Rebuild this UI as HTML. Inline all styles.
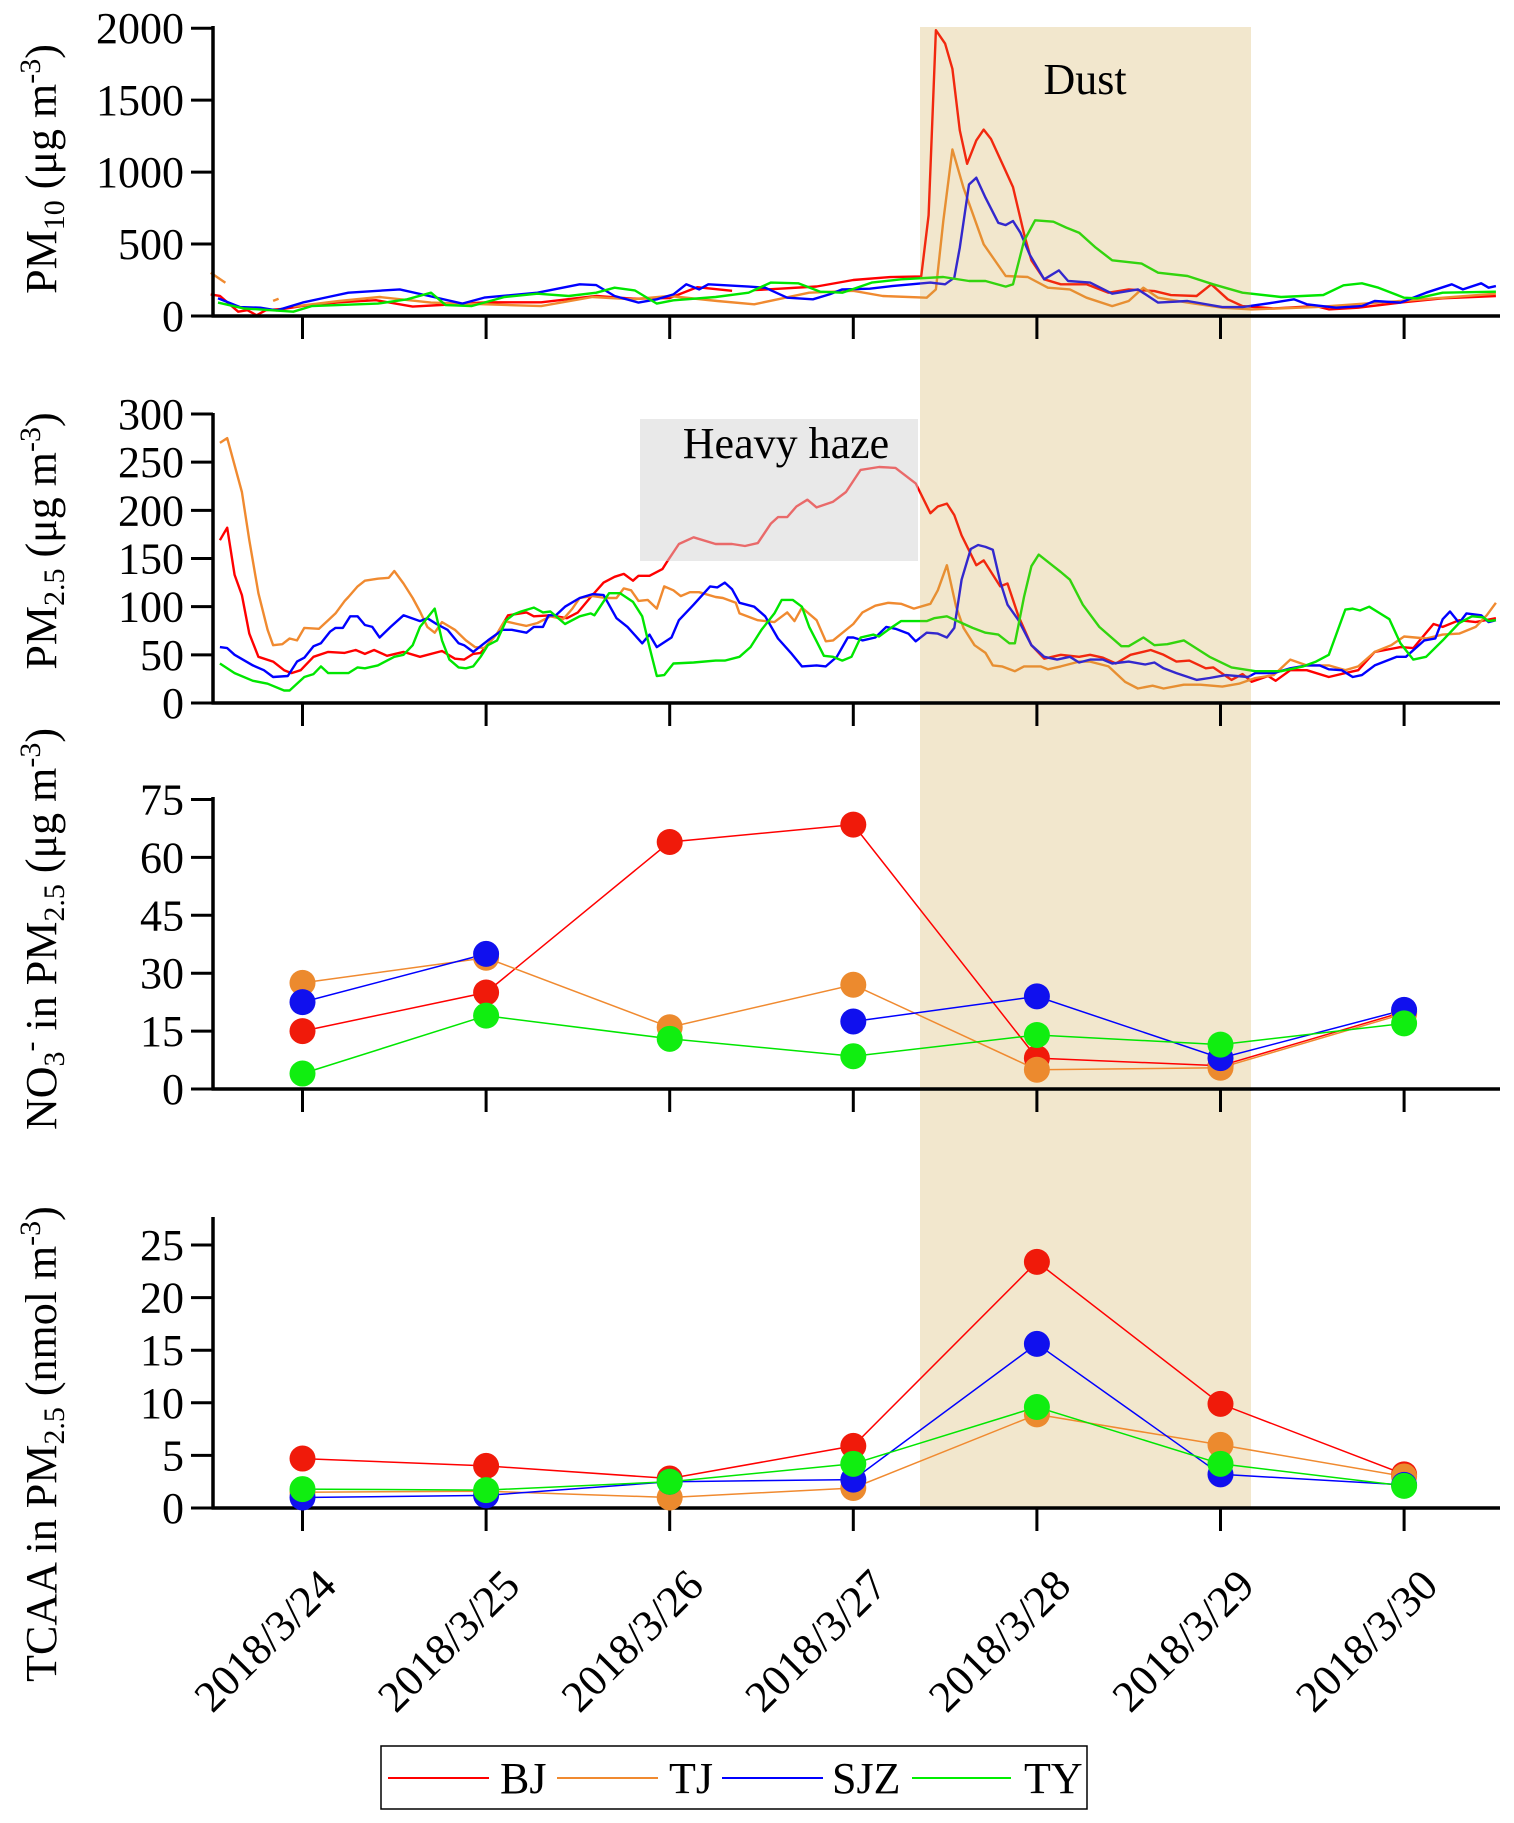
<!DOCTYPE html>
<html><head><meta charset="utf-8">
<style>
html,body{margin:0;padding:0;background:#fff;}
svg{display:block;font-family:"Liberation Serif","Times New Roman",serif;}
</style></head>
<body>
<svg id="chart" width="1514" height="1823" viewBox="0 0 1514 1823" xmlns="http://www.w3.org/2000/svg">
<g id="layer-lines"></g>
<rect x="640" y="419" width="278" height="142" fill="#d4d4d4" fill-opacity="0.5"/>
<text x="786" y="458" font-size="44" text-anchor="middle">Heavy haze</text>
<rect x="920" y="27" width="331" height="1482" fill="rgb(203,159,55)" fill-opacity="0.25"/>
<text x="1085" y="94" font-size="44" text-anchor="middle">Dust</text>
<g id="layer-axes"></g>
<g id="layer-dots"></g>

<text transform="translate(56,169) rotate(-90)" font-size="44" text-anchor="middle">PM<tspan font-size="30" dy="8">10</tspan><tspan dy="-8"> (μg m</tspan><tspan font-size="30" dy="-16">-3</tspan><tspan dy="16">)</tspan></text>
<text transform="translate(56,541) rotate(-90)" font-size="44" text-anchor="middle">PM<tspan font-size="30" dy="8">2.5</tspan><tspan dy="-8"> (μg m</tspan><tspan font-size="30" dy="-16">-3</tspan><tspan dy="16">)</tspan></text>
<text transform="translate(56,929) rotate(-90)" font-size="44" text-anchor="middle">NO<tspan font-size="30" dy="8">3</tspan><tspan font-size="30" dy="-24">-</tspan><tspan dy="16"> in PM</tspan><tspan font-size="30" dy="8">2.5</tspan><tspan dy="-8"> (μg m</tspan><tspan font-size="30" dy="-16">-3</tspan><tspan dy="16">)</tspan></text>
<text transform="translate(56,1444) rotate(-90)" font-size="44" text-anchor="middle">TCAA in PM<tspan font-size="30" dy="8">2.5</tspan><tspan dy="-8"> (nmol m</tspan><tspan font-size="30" dy="-16">-3</tspan><tspan dy="16">)</tspan></text>

<g>
<rect x="381" y="1746" width="706" height="63" fill="#fff" stroke="#000" stroke-width="1.5"/>
<line x1="388" y1="1778" x2="489" y2="1778" stroke="#ff0000" stroke-width="2"/>
<text x="500" y="1793" font-size="44">BJ</text>
<line x1="557" y1="1778" x2="658" y2="1778" stroke="#f08a30" stroke-width="2"/>
<text x="669" y="1793" font-size="44">TJ</text>
<line x1="722" y1="1778" x2="823" y2="1778" stroke="#0000ff" stroke-width="2"/>
<text x="832" y="1793" font-size="44">SJZ</text>
<line x1="912" y1="1778" x2="1011" y2="1778" stroke="#00ee00" stroke-width="2"/>
<text x="1024" y="1793" font-size="44">TY</text>
</g>
</svg>
<script>
const dates = ["2018/3/24","2018/3/25","2018/3/26","2018/3/27","2018/3/28","2018/3/29","2018/3/30"];
const seriesNames = ["BJ","TJ","SJZ","TY"];
const pm10Ticks = [0,500,1000,1500,2000];
const pm25Ticks = [0,50,100,150,200,250,300];
const no3Ticks = [0,15,30,45,60,75];
const tcaaTicks = [0,5,10,15,20,25];

const pm10BJ = [[-0.5,150],[-0.45,140],[-0.35,30],[-0.3,40],[-0.25,5],[-0.2,40],[-0.1,50],[0,70],[0.2,95],[0.4,110],[0.6,65],[0.8,80],[1.0,95],[1.3,95],[1.6,140],[1.8,120],[2.0,125],[2.15,200],[2.34,175],null,[2.46,180],[2.6,190],[2.8,205],[3.0,250],[3.2,270],[3.37,275],[3.41,700],[3.45,1986],[3.5,1893],[3.54,1718],[3.58,1290],[3.62,1058],[3.67,1220],[3.71,1295],[3.75,1230],[3.82,1035],[3.87,896],[3.93,572],[3.97,387],[4.04,255],[4.13,220],[4.27,220],[4.39,162],[4.5,185],[4.64,173],[4.73,145],[4.87,139],[4.95,220],[5.04,116],[5.12,69],[5.29,53],[5.52,69],[5.59,46],[5.75,58],[5.98,93],[6.21,123],[6.5,139]];
const pm10TJ = [[-0.5,300],[-0.42,231],null,[-0.16,105],[-0.13,120],null,[-0.05,65],[0.2,104],[0.42,132],[0.7,93],[1.0,81],[1.3,69],[1.58,132],[1.8,116],[2.0,139],[2.26,104],[2.46,81],[2.76,162],[3.0,175],[3.16,139],[3.4,127],[3.45,185],[3.49,660],[3.54,1157],[3.6,891],[3.71,498],[3.83,278],[3.95,271],[4.06,197],[4.18,185],[4.27,127],[4.41,69],[4.5,104],[4.58,197],[4.66,127],[4.82,93],[5.01,58],[5.17,46],[5.52,62],[5.98,104],[6.5,155]];
const pm10SJZ = [[-0.46,123],[-0.34,62],[-0.23,58],[-0.14,39],[0,93],[0.14,132],[0.25,162],[0.53,185],[0.69,139],[0.87,86],[0.99,128],[1.28,162],[1.51,220],[1.6,215],[1.7,139],[1.83,93],[1.93,116],[2.02,150],[2.09,220],[2.16,185],[2.21,220],[2.43,204],[2.52,197],[2.64,127],[2.78,116],[2.87,150],[2.94,185],[3.09,190],[3.21,208],[3.42,232],[3.5,220],[3.55,266],[3.58,475],[3.63,914],[3.67,961],[3.72,822],[3.79,648],[3.83,632],[3.87,660],[3.91,579],[3.96,428],[4.04,255],[4.12,317],[4.17,243],[4.29,232],[4.41,155],[4.55,185],[4.66,93],[4.82,104],[5.01,62],[5.12,62],[5.29,93],[5.4,116],[5.47,81],[5.63,58],[5.77,69],[5.84,104],[5.98,93],[6.12,162],[6.26,220],[6.32,185],[6.42,227],[6.46,197],[6.5,208]];
const pm10TY = [[-0.46,93],[-0.32,53],[-0.05,30],[0.05,69],[0.41,86],[0.57,116],[0.7,162],[0.78,76],[0.92,69],[1.1,132],[1.28,155],[1.45,139],[1.6,162],[1.7,197],[1.81,178],[1.93,86],[2.02,109],[2.25,132],[2.43,162],[2.55,232],[2.7,227],[2.82,169],[2.94,162],[3.1,232],[3.26,255],[3.49,271],[3.63,243],[3.72,243],[3.83,204],[3.87,220],[3.93,521],[3.99,665],[4.09,655],[4.16,614],[4.23,579],[4.32,475],[4.41,387],[4.57,364],[4.66,301],[4.82,278],[4.96,220],[5.12,162],[5.33,132],[5.56,146],[5.67,213],[5.77,227],[5.86,197],[6.0,127],[6.07,123],[6.21,162],[6.5,169]];

const pm25BJ = [[-0.45,169],[-0.41,182],[-0.37,133],[-0.33,112],[-0.29,72],[-0.24,48],[-0.16,43],[-0.1,34],[-0.06,31],[-0.01,34],[0.06,48],[0.14,53],[0.23,52],[0.29,55],[0.34,51],[0.39,55],[0.46,49],[0.55,53],[0.64,48],[0.76,54],[0.83,46],[0.88,45],[0.93,51],[0.97,52],[1.06,72],[1.12,91],[1.22,94],[1.26,90],[1.35,91],[1.44,88],[1.5,94],[1.57,110],[1.64,125],[1.7,131],[1.75,134],[1.8,127],[1.83,132],[1.89,132],[1.96,139],[1.99,148],[2.05,165],[2.13,172],[2.25,165],[2.34,165],[2.41,163],[2.48,166],[2.55,186],[2.59,193],[2.64,193],[2.69,204],[2.75,211],[2.8,203],[2.89,209],[2.96,219],[3.04,242],[3.14,245],[3.23,244],[3.34,228],[3.42,197],[3.46,204],[3.51,207],[3.55,195],[3.59,174],[3.67,143],[3.71,148],[3.8,121],[3.84,124],[3.9,90],[3.97,60],[4.04,46],[4.13,50],[4.23,48],[4.29,50],[4.36,47],[4.43,41],[4.51,50],[4.62,55],[4.69,50],[4.76,43],[4.83,44],[4.92,36],[4.96,37],[5.06,24],[5.12,30],[5.17,22],[5.26,28],[5.3,23],[5.38,34],[5.47,34],[5.59,27],[5.68,31],[5.75,34],[5.84,53],[5.98,58],[6.05,57],[6.16,82],[6.21,79],[6.3,86],[6.39,84],[6.5,88]];
const pm25TJ = [[-0.45,270],[-0.41,275],[-0.33,219],[-0.29,169],[-0.24,114],[-0.19,76],[-0.16,60],[-0.11,61],[-0.07,67],[-0.03,65],[0.01,78],[0.09,77],[0.14,86],[0.18,93],[0.23,106],[0.25,110],[0.3,121],[0.34,127],[0.41,129],[0.47,130],[0.5,137],[0.55,124],[0.6,109],[0.64,95],[0.68,79],[0.72,73],[0.76,84],[0.83,76],[0.89,65],[0.94,58],[0.99,57],[1.06,72],[1.1,85],[1.17,82],[1.22,80],[1.28,83],[1.35,90],[1.42,87],[1.47,98],[1.51,109],[1.58,111],[1.65,109],[1.71,109],[1.75,119],[1.79,117],[1.83,106],[1.88,107],[1.93,98],[1.97,121],[2.02,117],[2.06,111],[2.11,115],[2.16,115],[2.25,110],[2.29,109],[2.36,104],[2.38,93],[2.48,86],[2.57,84],[2.64,94],[2.68,85],[2.72,99],[2.8,86],[2.85,64],[2.89,65],[3.0,82],[3.05,94],[3.12,101],[3.19,104],[3.26,103],[3.33,98],[3.42,103],[3.46,117],[3.51,143],[3.56,100],[3.6,78],[3.66,60],[3.72,52],[3.76,39],[3.81,38],[3.88,33],[3.93,38],[4.02,38],[4.06,35],[4.13,38],[4.23,43],[4.29,43],[4.39,38],[4.48,22],[4.55,15],[4.63,18],[4.69,15],[4.8,19],[4.89,19],[5.01,17],[5.1,20],[5.19,26],[5.29,29],[5.38,45],[5.47,39],[5.59,39],[5.68,34],[5.75,38],[5.84,53],[5.93,60],[6.0,69],[6.12,67],[6.21,71],[6.3,72],[6.39,79],[6.45,91],[6.5,104]];
const pm25SJZ = [[-0.45,58],[-0.41,57],[-0.37,50],[-0.27,39],[-0.21,34],[-0.16,27],[-0.08,28],[-0.03,43],[0.01,47],[0.06,59],[0.1,62],[0.15,74],[0.18,78],[0.22,78],[0.26,90],[0.3,90],[0.34,81],[0.38,79],[0.42,68],[0.48,79],[0.55,91],[0.64,85],[0.68,88],[0.73,82],[0.79,76],[0.85,62],[0.88,60],[0.93,53],[1.01,65],[1.09,76],[1.14,76],[1.22,73],[1.26,79],[1.31,79],[1.34,91],[1.38,91],[1.43,100],[1.51,109],[1.58,113],[1.64,112],[1.71,88],[1.77,79],[1.85,62],[1.89,71],[1.93,58],[2.01,68],[2.05,86],[2.13,102],[2.22,121],[2.26,120],[2.3,125],[2.34,118],[2.38,104],[2.46,100],[2.52,90],[2.59,67],[2.66,52],[2.72,38],[2.8,39],[2.85,38],[2.91,48],[2.97,68],[3.0,68],[3.05,65],[3.12,68],[3.18,79],[3.23,77],[3.3,72],[3.34,64],[3.4,73],[3.46,72],[3.51,68],[3.55,78],[3.59,128],[3.64,160],[3.68,164],[3.72,162],[3.76,159],[3.8,126],[3.84,102],[3.9,86],[3.97,60],[4.04,48],[4.11,45],[4.18,48],[4.23,42],[4.29,45],[4.36,45],[4.41,41],[4.5,43],[4.59,40],[4.64,42],[4.69,36],[4.76,31],[4.87,24],[4.94,26],[5.03,29],[5.15,27],[5.19,31],[5.29,31],[5.38,36],[5.47,39],[5.54,39],[5.59,35],[5.66,34],[5.72,27],[5.77,29],[5.84,39],[5.96,48],[6.01,48],[6.11,65],[6.17,67],[6.21,87],[6.25,95],[6.3,83],[6.34,93],[6.42,91],[6.46,84],[6.5,86]];
const pm25TY = [[-0.45,41],[-0.37,31],[-0.27,23],[-0.19,20],[-0.1,13],[-0.07,13],[0.01,27],[0.06,30],[0.1,38],[0.14,31],[0.25,31],[0.3,37],[0.34,36],[0.41,39],[0.5,48],[0.55,50],[0.6,60],[0.64,79],[0.72,98],[0.76,65],[0.8,45],[0.85,37],[0.89,36],[0.93,38],[0.97,48],[1.01,60],[1.06,65],[1.11,86],[1.15,92],[1.19,95],[1.26,99],[1.31,94],[1.35,95],[1.43,82],[1.51,90],[1.57,93],[1.59,91],[1.67,114],[1.73,114],[1.8,105],[1.85,90],[1.89,58],[1.93,28],[1.97,29],[2.02,41],[2.13,42],[2.25,44],[2.3,44],[2.38,48],[2.44,58],[2.5,76],[2.57,93],[2.61,107],[2.67,107],[2.72,100],[2.76,79],[2.8,64],[2.84,49],[2.89,48],[2.94,44],[2.99,48],[3.04,68],[3.11,71],[3.14,69],[3.19,76],[3.26,85],[3.4,85],[3.44,88],[3.51,90],[3.58,84],[3.65,78],[3.72,73],[3.79,71],[3.85,62],[3.88,62],[3.93,110],[3.97,142],[4.01,154],[4.09,142],[4.13,136],[4.18,128],[4.25,102],[4.34,79],[4.46,59],[4.5,59],[4.58,68],[4.64,60],[4.71,61],[4.8,65],[4.94,48],[5.06,37],[5.19,33],[5.33,33],[5.45,38],[5.52,43],[5.59,50],[5.68,97],[5.72,98],[5.76,96],[5.81,100],[5.86,94],[5.92,87],[5.98,62],[6.05,45],[6.12,48],[6.21,65],[6.3,83],[6.37,90],[6.43,89],[6.46,85],[6.5,86]];

const no3BJ = [15,25,64,68.5,8,6,20];
const no3TJ = [27.5,34,16,27,5,5.5,19.5];
const no3SJZ = [22.5,35,null,17.5,24,8,20.5];
const no3TY = [4,19,13,8.5,14,11.5,17];
const tcaaBJ = [4.7,4.0,2.8,5.9,23.4,9.9,3.2];
const tcaaTJ = [1.5,1.6,1.0,1.9,8.9,6.0,3.0];
const tcaaSJZ = [1.0,1.2,2.5,2.7,15.6,3.2,2.2];
const tcaaTY = [1.8,1.7,2.5,4.2,9.6,4.2,2.1];

const lineColors = ["#ff0000","#f08a30","#0000ff","#00e600"];
const dotColors = ["#f01a0a","#ec8a2e","#1010ee","#10ee10"];
const NS = "http://www.w3.org/2000/svg";
const layerLines = document.getElementById("layer-lines");
const layerAxes = document.getElementById("layer-axes");
const layerDots = document.getElementById("layer-dots");

const X0 = 302.5, DX = 183.6, AXL = 213, AXR = 1500;
function xScale(t){ return X0 + DX*t; }
function makeY(y0, yTop, vMax){ return v => y0 - v*(y0-yTop)/vMax; }

const panels = [
  {key:"pm10", y0:316, yTop:28.2, vMax:2000, axisTop:26, ticks:pm10Ticks},
  {key:"pm25", y0:703, yTop:414, vMax:300, axisTop:413, ticks:pm25Ticks},
  {key:"no3", y0:1089, yTop:799.5, vMax:75, axisTop:797, ticks:no3Ticks},
  {key:"tcaa", y0:1508, yTop:1245, vMax:25, axisTop:1217, ticks:tcaaTicks}
];

function el(tag, attrs, parent){
  const e = document.createElementNS(NS, tag);
  for (const k in attrs) e.setAttribute(k, attrs[k]);
  parent.appendChild(e);
  return e;
}

panels.forEach((p, pi) => {
  const y = makeY(p.y0, p.yTop, p.vMax);
  const g = el("g", {}, layerAxes);
  
  
  const ya = el("line", {x1:AXL, y1:p.axisTop, x2:AXL, y2:p.y0+1.5, stroke:"#000","stroke-width":3.5}, g);
  
  
  const xa = el("line", {x1:AXL-1.5, y1:p.y0, x2:AXR, y2:p.y0, stroke:"#000","stroke-width":3.5}, g);
  
  
  p.ticks.forEach(v => {
    const yy = y(v);
    const tk = el("line", {x1:AXL-22, y1:yy, x2:AXL, y2:yy, stroke:"#000","stroke-width":3}, g);
    
    
    const tl = el("text", {x:AXL-29, y:yy+15, "font-size":44, "text-anchor":"end"}, g);
    tl.textContent = v;
    
    
  });
  dates.forEach((d, i) => {
    const xx = xScale(i);
    const tk = el("line", {x1:xx, y1:p.y0, x2:xx, y2:p.y0+23, stroke:"#000","stroke-width":3}, g);
    
    
  });
});

dates.forEach((d, i) => {
  const xx = xScale(i) + 36, yy = 1588;
  const t = el("text", {x:xx, y:yy, "font-size":44, "text-anchor":"end", transform:`rotate(-45 ${xx} ${yy})`}, layerAxes);
  t.textContent = d;
  
  
});

function drawSeries(pts, panel, color, name){
  const y = makeY(panel.y0, panel.yTop, panel.vMax);
  let dstr = "", pen = false;
  pts.forEach(pt => {
    if (!pt) { pen = false; return; }
    dstr += (pen ? "L" : "M") + xScale(pt[0]).toFixed(1) + " " + y(pt[1]).toFixed(1);
    pen = true;
  });
  const path = el("path", {d:dstr, fill:"none", stroke:color, "stroke-width":2.4, "stroke-linejoin":"round"}, layerLines);
  
  
}
const pm10Series = [pm10BJ, pm10TJ, pm10SJZ, pm10TY];
const pm25Series = [pm25BJ, pm25TJ, pm25SJZ, pm25TY];
pm10Series.forEach((s, i) => drawSeries(s, panels[0], lineColors[i], 'pm10-line-' + seriesNames[i].toLowerCase()));
pm25Series.forEach((s, i) => drawSeries(s, panels[1], lineColors[i], 'pm25-line-' + seriesNames[i].toLowerCase()));

function drawDaily(vals, panel, si, prefix){
  const y = makeY(panel.y0, panel.yTop, panel.vMax);
  let dstr = "", pen = false;
  vals.forEach((v, i) => {
    if (v === null) { pen = false; return; }
    dstr += (pen ? "L" : "M") + xScale(i).toFixed(1) + " " + y(v).toFixed(1);
    pen = true;
  });
  const path = el("path", {d:dstr, fill:"none", stroke:lineColors[si], "stroke-width":1.5}, layerDots);
  
  
  return () => {
    vals.forEach((v, i) => {
      if (v === null) return;
      const c = el("circle", {cx:xScale(i), cy:y(v), r:13, fill:dotColors[si]}, layerDots);
      
      
    });
  };
}
const no3Series = [no3BJ, no3TJ, no3SJZ, no3TY];
const tcaaSeries = [tcaaBJ, tcaaTJ, tcaaSJZ, tcaaTY];
const dotFns = [];
no3Series.forEach((s, i) => dotFns.push(drawDaily(s, panels[2], i, 'no3')));
tcaaSeries.forEach((s, i) => dotFns.push(drawDaily(s, panels[3], i, 'tcaa')));
dotFns.forEach(f => f());
</script>
</body></html>
